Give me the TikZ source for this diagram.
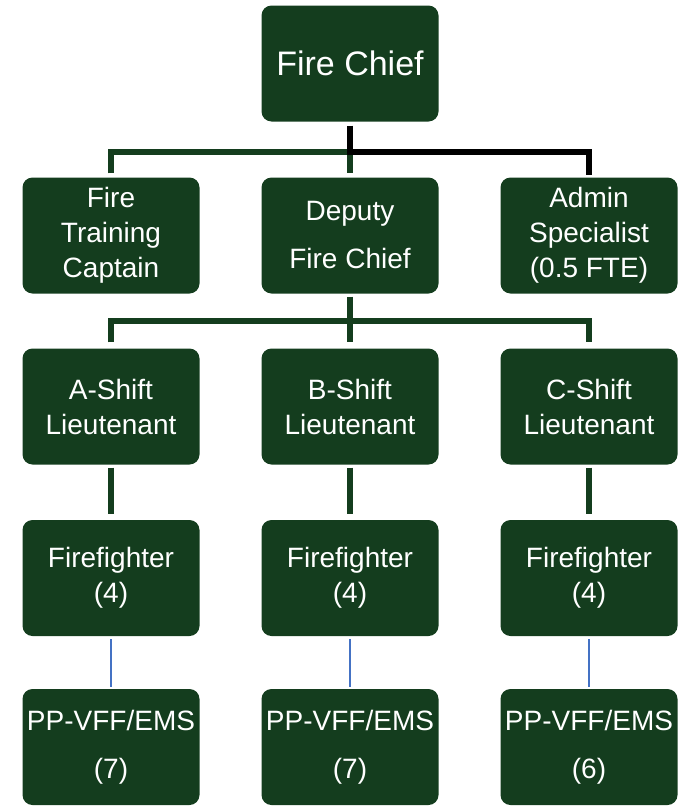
\documentclass[tikz,border=0pt]{standalone}
\usepackage{fontspec}
\setmainfont{Liberation Sans}
\usepackage{tikz}
\usetikzlibrary{positioning}

\definecolor{chiefgreen}{RGB}{20,61,30}
\definecolor{lineblue}{RGB}{68,114,196}

\begin{document}
\begin{tikzpicture}[x=1pt, y=-1pt]
			\tikzstyle{Post}	= [rectangle, rounded corners=10pt, fill=chiefgreen, text=white, align=center, inner sep=0pt, minimum width=177pt, minimum height=116pt, font=\fontsize{28}{35}\selectfont]
			\tikzstyle{Wide}	= [font=\fontsize{28}{48}\selectfont]
			\tikzstyle{GL}		= [chiefgreen, line width=5.5pt]
			\tikzstyle{BL}		= [black, line width=6pt]
			\tikzstyle{TL}		= [lineblue, line width=1.8pt]
			\useasboundingbox (0,0) rectangle (682,806);

			% top two rows
			\node (chief) at (350,63.5) [Post, font=\fontsize{34}{40}\selectfont] {Fire Chief};
			\node (training) at (111,235.5) [Post] {Fire\\Training\\Captain};
			\node (deputy) at (350,235.5) [Post, Wide] {Deputy\\Fire Chief};
			\node (admin) at (589,235.5) [Post] {Admin\\Specialist\\(0.5 FTE)};

			% shifts
			\foreach \c/\x/\n in {A/111/7, B/350/7, C/589/6} {
				\node (shift\c) at (\x,406.5) [Post] {\c-Shift\\Lieutenant};
				\node (ff\c) at (\x,578) [Post] {Firefighter\\(4)};
				\node (pp\c) at (\x,747) [Post, Wide] {PP-VFF/EMS\\(\n)};
			}

			\coordinate (bar1) at (350,152);
			\coordinate (bar2) at (350,321);

			\draw [GL] ([yshift=4pt]training.north) |- (bar1) -- ([yshift=4pt]deputy.north);
			\draw [BL] ([yshift=-4pt]chief.south) -- (bar1) -| ([yshift=2pt]admin.north);
			\draw [GL] ([yshift=-3pt]deputy.south) -- ([yshift=6pt]shiftB.north);
			\draw [GL] ([yshift=6pt]shiftA.north) |- (bar2) -| ([yshift=6pt]shiftC.north);

			\foreach \c in {A, B, C} {
				\draw [GL] ([yshift=-3pt]shift\c.south) -- ([yshift=6pt]ff\c.north);
				\draw [TL] ([yshift=-3pt]ff\c.south) -- ([yshift=2pt]pp\c.north);
			}
		\end{tikzpicture}
\end{document}
